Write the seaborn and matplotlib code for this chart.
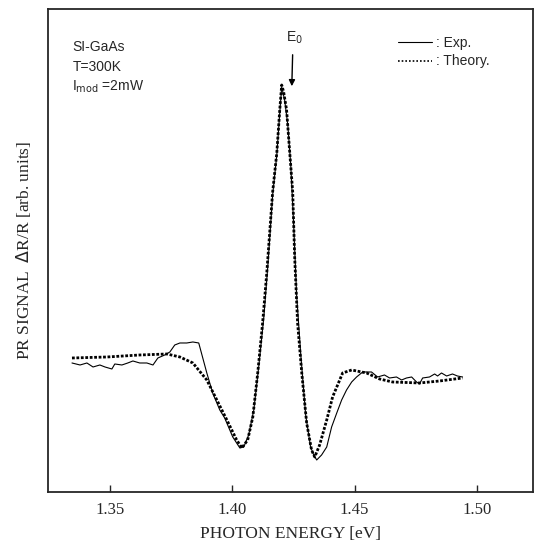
import numpy as np
import pandas as pd
import matplotlib
matplotlib.use("Agg")
import matplotlib.pyplot as plt
import seaborn as sns

# photon energy [eV] and PR signal [arb. units]
theory_e = [1.3345, 1.3488, 1.3622, 1.3733, 1.3786, 1.3839, 1.3896, 1.3937, 1.3978,
            1.4018, 1.4039, 1.4063, 1.4084, 1.4104, 1.4124, 1.4141, 1.4165, 1.4182,
            1.4194, 1.4202, 1.4210, 1.4222, 1.4235, 1.4247, 1.4255, 1.4267, 1.4284,
            1.4304, 1.4324, 1.4337, 1.4357, 1.4386, 1.4410, 1.4451, 1.4488, 1.4549,
            1.4602, 1.4655, 1.4765, 1.4847, 1.4941]
theory_s = [-0.03, -0.02, 0.00, 0.01, -0.02, -0.08, -0.25, -0.45, -0.65,
            -0.85, -0.93, -0.85, -0.62, -0.18, 0.32, 0.82, 1.63, 2.02,
            2.45, 2.70, 2.63, 2.45, 2.02, 1.63, 0.98, 0.32, -0.18,
            -0.68, -0.95, -1.02, -0.90, -0.65, -0.42, -0.18, -0.15, -0.18,
            -0.24, -0.27, -0.28, -0.26, -0.23]

exp_e = [1.3345, 1.3378, 1.3406, 1.3431, 1.3459, 1.3480, 1.3508, 1.3520, 1.3549,
         1.3573, 1.3594, 1.3622, 1.3651, 1.3676, 1.3696, 1.3724, 1.3745, 1.3765,
         1.3786, 1.3814, 1.3839, 1.3863, 1.3896, 1.3920, 1.3949, 1.3969, 1.4002,
         1.4031, 1.4047, 1.4067, 1.4088, 1.4108, 1.4129, 1.4145, 1.4165, 1.4182,
         1.4194, 1.4202, 1.4214, 1.4227, 1.4239, 1.4251, 1.4263, 1.4280, 1.4300,
         1.4320, 1.4333, 1.4345, 1.4365, 1.4386, 1.4406, 1.4427, 1.4447, 1.4467,
         1.4488, 1.4508, 1.4533, 1.4569, 1.4594, 1.4622, 1.4643, 1.4671, 1.4692,
         1.4712, 1.4733, 1.4753, 1.4765, 1.4778, 1.4806, 1.4827, 1.4839, 1.4855,
         1.4876, 1.4900, 1.4920, 1.4941]
exp_s = [-0.08, -0.10, -0.08, -0.12, -0.10, -0.12, -0.14, -0.09, -0.10,
         -0.08, -0.06, -0.08, -0.08, -0.10, -0.03, 0.00, 0.03, 0.10,
         0.12, 0.12, 0.13, 0.12, -0.18, -0.38, -0.55, -0.63, -0.82,
         -0.93, -0.92, -0.80, -0.55, -0.12, 0.38, 0.88, 1.60, 2.00,
         2.42, 2.68, 2.55, 2.30, 1.90, 1.30, 0.60, 0.00, -0.60,
         -0.92, -1.00, -1.05, -1.00, -0.92, -0.72, -0.58, -0.45, -0.35,
         -0.27, -0.22, -0.17, -0.17, -0.22, -0.20, -0.23, -0.22, -0.25,
         -0.23, -0.22, -0.27, -0.29, -0.23, -0.22, -0.19, -0.21, -0.18,
         -0.21, -0.19, -0.21, -0.22]

x_ticks = [1.35, 1.40, 1.45, 1.50]
x_ticklabels = ["1.35", "1.40", "1.45", "1.50"]

sns.set_style("ticks")
plt.rcParams["font.family"] = ["Liberation Serif", "DejaVu Serif"]

exp_df = pd.DataFrame({"energy": exp_e, "signal": exp_s})
th_df = pd.DataFrame({"energy": theory_e, "signal": theory_s})

fig = plt.figure(figsize=(5.43, 5.58), dpi=100)
ax = fig.add_axes([0.0884, 0.1183, 0.8932, 0.8656])

sns.lineplot(data=exp_df, x="energy", y="signal", sort=False, estimator=None,
             color="black", linewidth=0.8, ax=ax)
sns.lineplot(data=th_df, x="energy", y="signal", sort=False, estimator=None,
             color="black", linewidth=2.0, linestyle=(0, (1.0, 0.6)), ax=ax)

ax.set_xlim(1.3247, 1.5229)
ax.set_ylim(-1.37, 3.46)
ax.set_xticks(x_ticks)
ax.set_xticklabels(x_ticklabels, fontsize=12)
ax.set_yticks([])
ax.tick_params(axis="x", direction="in", length=5, width=1, pad=7)
for sp in ax.spines.values():
    sp.set_linewidth(1.3)
    sp.set_visible(True)

ax.set_xlabel("PHOTON ENERGY [eV]", fontsize=12.5, labelpad=6)
ax.set_ylabel("PR SIGNAL  $\\mathit{\\Delta}$R/R [arb. units]", fontsize=12.5, labelpad=11)

sans = ["Liberation Sans", "DejaVu Sans"]
ax.text(0.05, 0.921, "SI-GaAs", transform=ax.transAxes, family=sans, fontsize=10, va="center")
ax.text(0.05, 0.880, "T=300K", transform=ax.transAxes, family=sans, fontsize=10, va="center")
ax.text(0.05, 0.838, "I$_{\\mathrm{mod}}$ =2mW", transform=ax.transAxes, family=sans, fontsize=10, va="center")

ax.annotate("", xy=(1.4243, 2.66), xytext=(1.4247, 3.03),
            arrowprops=dict(arrowstyle="-|>", color="black", lw=1.0, mutation_scale=9))
ax.text(1.4255, 3.17, "E$_0$", family=sans, fontsize=10, ha="center", va="center")

h_exp = plt.Line2D([], [], color="black", linewidth=0.8)
h_th = plt.Line2D([], [], color="black", linewidth=1.2, linestyle=(0, (1.0, 1.2)))
ax.legend([h_exp, h_th], [": Exp.", ": Theory."], loc="upper left",
          bbox_to_anchor=(0.7216, 0.945), frameon=False, borderpad=0, borderaxespad=0,
          handlelength=2.45, handletextpad=0.3, labelspacing=0.35,
          prop={"family": "Liberation Sans", "size": 10})

fig.savefig("out.png", dpi=100)
